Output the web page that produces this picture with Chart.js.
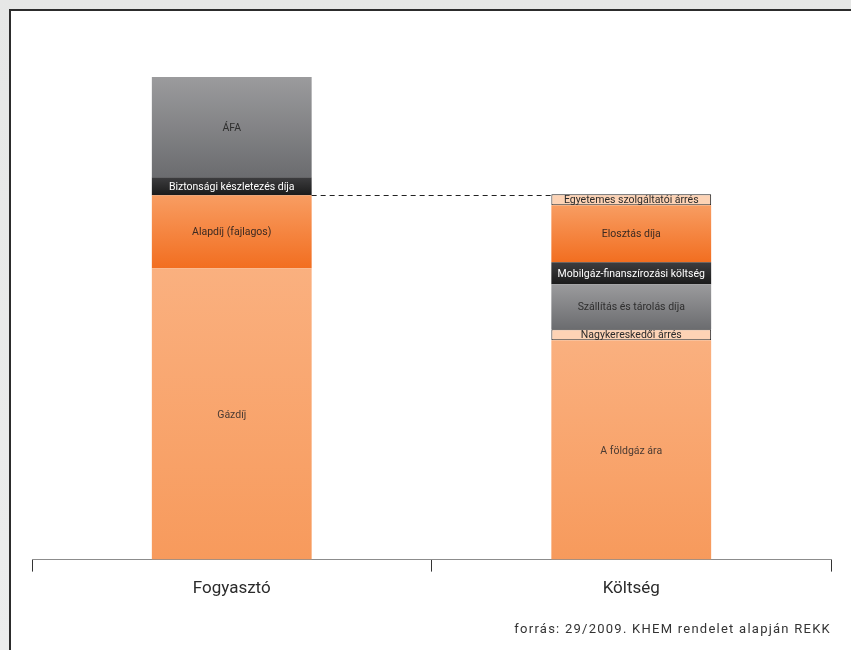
<!DOCTYPE html>
<html>
<head>
<meta charset="utf-8">
<script src="https://cdn.jsdelivr.net/npm/chart.js@4/dist/chart.umd.min.js"></script>
<style>
  body { margin: 0; width: 851px; height: 650px; overflow: hidden; background: linear-gradient(#e6e7e6, #eceded); font-family: Roboto, sans-serif; }
  #panel { position: absolute; left: 9px; top: 9px; right: 0; bottom: 0; background: #fff; border-top: 2px solid #2c2c2c; border-left: 2px solid #2c2c2c; }
  #wrap { position: absolute; left: 0; top: 0; width: 851px; height: 650px; }
  #source { position: absolute; right: 20px; top: 621px; font-size: 13px; letter-spacing: 1.25px; color: #333; }
</style>
</head>
<body>
<div id="panel"></div>
<div id="wrap"><canvas id="chart"></canvas></div>
<div id="source">forrás: 29/2009. KHEM rendelet alapján REKK</div>
<script>
// Data
const categories = ["Fogyasztó", "Költség"];
const fogyasztoLabels = ["Gázdíj", "Alapdíj (fajlagos)", "Biztonsági készletezés díja", "ÁFA"];
const fogyasztoValues = [291, 73, 18, 100];
const koltsegLabels = ["A földgáz ára", "Nagykereskedői árrés", "Szállítás és tárolás díja",
  "Mobilgáz-finanszírozási költség", "Elosztás díja", "Egyetemes szolgáltatói árrés"];
const koltsegValues = [219, 11, 45, 22, 57, 11];

// Segment looks
const LIGHT = { top: "#fab07f", bottom: "#f79a5c", text: "#4a3b33" };
const ORANGE = { top: "#f89d62", bottom: "#f26e20", text: "#3b2a22" };
const DARK = { top: "#3d3d3f", bottom: "#1b1b1b", text: "#ffffff" };
const GRAY = { top: "#9b9b9d", bottom: "#6b6c6f", text: "#2e2e2e" };
const BOXED = { top: "#fdd3b5", bottom: "#fdd3b5", text: "#2a2a2a", border: "#222" };

const fogyasztoStyles = [LIGHT, ORANGE, DARK, GRAY];
const koltsegStyles = [LIGHT, BOXED, GRAY, DARK, ORANGE, BOXED];

const datasets = [];
fogyasztoLabels.forEach((label, i) => {
  datasets.push({ label, data: [fogyasztoValues[i], null], look: fogyasztoStyles[i] });
});
koltsegLabels.forEach((label, i) => {
  datasets.push({ label, data: [null, koltsegValues[i]], look: koltsegStyles[i] });
});

function baseOf(chart, dsIndex, dataIndex) {
  let sum = 0;
  for (let k = 0; k < dsIndex; k++) {
    const v = chart.data.datasets[k].data[dataIndex];
    if (v != null) sum += v;
  }
  return sum;
}

function gradientFill(ctx) {
  const look = ctx.dataset.look;
  const chart = ctx.chart;
  if (!chart.chartArea || ctx.raw == null) return look.bottom;
  const y = chart.scales.y;
  const base = baseOf(chart, ctx.datasetIndex, ctx.dataIndex);
  const g = chart.ctx.createLinearGradient(0, y.getPixelForValue(base + ctx.raw), 0, y.getPixelForValue(base));
  g.addColorStop(0, look.top);
  g.addColorStop(1, look.bottom);
  return g;
}

datasets.forEach((ds) => {
  ds.backgroundColor = gradientFill;
  ds.borderColor = ds.look.border || "rgba(0,0,0,0)";
  ds.borderWidth = ds.look.border ? 1 : 0;
  ds.borderSkipped = false;
  ds.stack = "s";
});

const segmentLabels = {
  id: "segmentLabels",
  afterDatasetsDraw(chart) {
    const c = chart.ctx;
    c.save();
    c.font = "10.5px Roboto";
    c.textAlign = "center";
    c.textBaseline = "middle";
    chart.data.datasets.forEach((ds, i) => {
      chart.getDatasetMeta(i).data.forEach((el, j) => {
        if (ds.data[j] == null) return;
        c.fillStyle = ds.look.text;
        c.fillText(ds.label, el.x, (el.y + el.base) / 2 + 1);
      });
    });
    // dashed guide from consumer bar to cost bar
    const from = chart.getDatasetMeta(1).data[0];
    const to = chart.getDatasetMeta(datasets.length - 1).data[1];
    c.strokeStyle = "#222";
    c.lineWidth = 1;
    c.setLineDash([5, 4]);
    c.beginPath();
    c.moveTo(from.x + from.width / 2, Math.round(from.y) + 0.5);
    c.lineTo(to.x - to.width / 2, Math.round(from.y) + 0.5);
    c.stroke();
    c.restore();
  }
};

new Chart(document.getElementById("chart"), {
  type: "bar",
  data: { labels: categories, datasets },
  options: {
    responsive: true,
    maintainAspectRatio: false,
    animation: false,
    layout: { padding: { left: 32, right: 20, top: 59, bottom: 44 } },
    plugins: { legend: { display: false }, tooltip: { enabled: false } },
    datasets: { bar: { barPercentage: 0.4, categoryPercentage: 1.0 } },
    scales: {
      x: {
        stacked: true,
        grid: { drawOnChartArea: false, drawTicks: true, tickLength: 12, color: "#333", offset: true },
        border: { display: true, color: "#8c8c8c", width: 1 },
        ticks: { font: { family: "Roboto", size: 17, weight: "normal" }, color: "#2b2b2b", padding: 7 }
      },
      y: { stacked: true, display: false, min: 0, max: 500 }
    }
  },
  plugins: [segmentLabels]
});
</script>
</body>
</html>
